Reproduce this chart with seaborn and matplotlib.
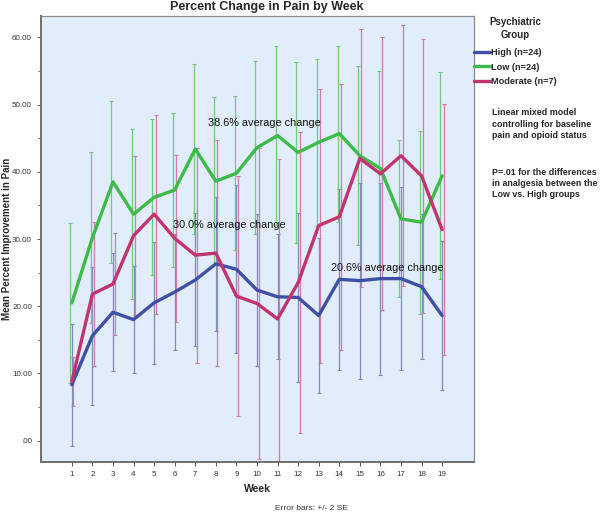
import numpy as np
import pandas as pd
import matplotlib
matplotlib.use("Agg")
import matplotlib.pyplot as plt
import seaborn as sns

# datos (media y SE por semana, barras = +/- 2 SE)
weeks = list(range(1, 20))
groups = ["High (n=24)", "Low (n=24)", "Moderate (n=7)"]

high_mean = [8.3, 15.6, 19.1, 18.0, 20.5, 22.1, 23.9, 26.3, 25.5, 22.4,
             21.4, 21.3, 18.6, 24.0, 23.8, 24.1, 24.1, 22.9, 18.6]
high_se = [4.55, 5.15, 4.4, 4.0, 4.55, 4.3, 4.95, 5.0, 6.25, 5.65,
           4.65, 6.3, 5.75, 6.75, 7.3, 7.15, 6.8, 5.4, 5.55]

low_mean = [20.5, 30.2, 38.5, 33.7, 36.2, 37.3, 43.4, 38.6, 39.8, 43.6,
            45.4, 42.9, 44.4, 45.7, 42.4, 40.5, 33.0, 32.5, 39.4]
low_se = [5.95, 6.35, 6.0, 6.35, 5.8, 5.75, 6.3, 6.25, 5.75, 6.45,
          6.65, 6.75, 6.2, 6.55, 6.65, 7.25, 5.85, 6.8, 7.7]

mod_mean = [8.8, 21.8, 23.3, 30.5, 33.7, 30.1, 27.6, 27.9, 21.5, 20.4,
            18.1, 23.5, 32.0, 33.3, 42.0, 39.7, 42.4, 39.4, 31.4]
mod_se = [1.85, 5.35, 3.8, 5.9, 7.4, 6.2, 8.0, 8.4, 8.95, 11.6,
          11.9, 11.2, 10.2, 9.9, 9.6, 10.15, 9.7, 10.2, 9.35]

notes = ["38.6% average change", "30.0% average change", "20.6% average change"]
note_x = [7.6, 5.9, 13.6]
note_y = [47.3, 32.1, 25.7]

colores = {"High (n=24)": "#3f4fa6", "Low (n=24)": "#3dba48", "Moderate (n=7)": "#c2346f"}
colores_barra = {"High (n=24)": "#7d87c8", "Low (n=24)": "#72c97c", "Moderate (n=7)": "#d27aa3"}
desplaz = {"High (n=24)": 0.0, "Low (n=24)": -0.08, "Moderate (n=7)": 0.08}

df = pd.DataFrame({
    "Week": weeks * 3,
    "Mean": high_mean + low_mean + mod_mean,
    "SE": high_se + low_se + mod_se,
    "Group": [g for g in groups for _ in weeks],
})

sns.set_style("white")
plt.rcParams["font.family"] = ["Liberation Sans", "DejaVu Sans"]

fig = plt.figure(figsize=(6.01, 5.13), dpi=100)
ax = fig.add_axes([0.0682, 0.0994, 0.7205, 0.8694])
ax.set_facecolor("#e2edfb")

# barras de error primero, debajo de las lineas
for g in groups:
    d = df[df["Group"] == g]
    ax.errorbar(d["Week"] + desplaz[g], d["Mean"], yerr=2 * d["SE"], fmt="none",
                ecolor=colores_barra[g], elinewidth=0.9, capsize=1.2, capthick=0.8, zorder=2)

sns.lineplot(data=df, x="Week", y="Mean", hue="Group", palette=colores,
             linewidth=2.4, ax=ax, zorder=3)

for t, x, y in zip(notes, note_x, note_y):
    ax.text(x, y, t, fontsize=7.8, ha="left", va="center", color="#111111", zorder=4)

ax.set_xlim(-0.5, 20.55)
ax.set_ylim(-3.2, 63.2)
ax.set_xticks(weeks)
ax.set_xticklabels([str(w) for w in weeks])
ax.set_yticks(np.arange(0, 61, 10))
ax.set_yticklabels([".00"] + ["%.2f" % v for v in np.arange(10, 61, 10)])
ax.set_yticks(np.arange(5, 61, 10), minor=True)
ax.tick_params(axis="both", which="major", direction="out", length=3, width=0.7,
               labelsize=5.8, colors="#555555", labelcolor="#333333", left=True, bottom=True)
ax.tick_params(axis="y", which="minor", direction="out", length=2, width=0.6,
               colors="#555555", left=True)

for s in ["left", "bottom"]:
    ax.spines[s].set_color("#6f6f6f")
    ax.spines[s].set_linewidth(1.4)
for s in ["top", "right"]:
    ax.spines[s].set_color("#8a8a8a")
    ax.spines[s].set_linewidth(0.9)

ax.set_xlabel("Week", fontsize=7.5, fontweight="bold", labelpad=4)
ax.set_ylabel("Mean Percent Improvement in Pain", fontsize=7, fontweight="bold")
ax.yaxis.set_label_coords(-0.066, 0.5)
ax.set_title("Percent Change in Pain by Week", fontsize=9, fontweight="bold", pad=4, x=0.522)

handles, labels = ax.get_legend_handles_labels()
leg = ax.legend(handles, labels, title="Psychiatric\nGroup", loc="upper left",
                bbox_to_anchor=(474 / 601, 1 - 17 / 513), bbox_transform=fig.transFigure,
                frameon=False, prop={"size": 6.6, "weight": "bold"}, handlelength=1.7,
                handletextpad=0.15, labelspacing=0.6, borderpad=0, borderaxespad=0)
leg.get_title().set_fontweight("bold")
leg.get_title().set_fontsize(7)
leg.get_title().set_multialignment("center")
leg.get_title().set_linespacing(1.35)
leg._legend_box.sep = 6

fig.text(492 / 601, 1 - 108 / 513, "Linear mixed model\ncontrolling for baseline\npain and opioid status",
         fontsize=6.4, va="top", ha="left", linespacing=1.38, fontweight="bold")
fig.text(492 / 601, 1 - 168 / 513, "P=.01 for the differences\nin analgesia between the\nLow vs. High groups",
         fontsize=6.4, va="top", ha="left", linespacing=1.32, fontweight="bold")
fig.text(311 / 601, 1 - 509 / 513, "Error bars: +/- 2 SE", fontsize=6, ha="center", va="center",
         color="#333333")

fig.savefig("out.png", dpi=100)
